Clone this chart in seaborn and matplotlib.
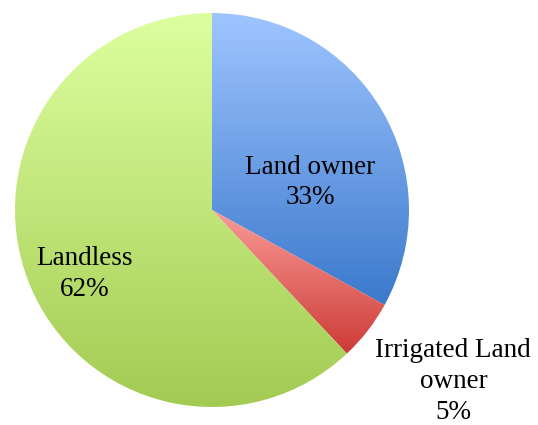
import numpy as np
import matplotlib
matplotlib.use("Agg")
import matplotlib.pyplot as plt
import seaborn as sns
from matplotlib.colors import LinearSegmentedColormap

sns.set_theme(style="white")
plt.rcParams["font.family"] = ["Liberation Serif", "DejaVu Serif"]

categories = ["Land owner", "Irrigated Land\nowner", "Landless"]
shares = [33, 5, 62]

# gradient endpoints (top colour, bottom colour) for each slice
gradients = [
    ("#9fc5ff", "#3b79cc"),
    ("#fa9b98", "#cc3a35"),
    ("#ddffa0", "#a3cb52"),
]

# label anchor positions in pie units (radius = 1)
label_pos = [(0.50, 0.14), (1.225, -0.87), (-0.645, -0.325)]

fig = plt.figure(figsize=(5.38, 4.25), dpi=100)
ax = fig.add_axes([0, 0, 1, 1])

wedges, _ = ax.pie(shares, startangle=90, counterclock=False,
                   radius=1.0, center=(0, 0))

for w, (c_top, c_bot) in zip(wedges, gradients):
    w.set_facecolor("none")
    w.set_edgecolor("none")
    verts = w.get_path().vertices
    x0, x1 = verts[:, 0].min(), verts[:, 0].max()
    y0, y1 = verts[:, 1].min(), verts[:, 1].max()
    cmap = LinearSegmentedColormap.from_list("g", [c_bot, c_top])
    grad = np.linspace(0, 1, 256).reshape(-1, 1)
    im = ax.imshow(grad, cmap=cmap, origin="lower", aspect="auto",
                   extent=(x0, x1, y0, y1), interpolation="bilinear", zorder=1)
    im.set_clip_path(w)

for (name, val), (lx, ly) in zip(zip(categories, shares), label_pos):
    ax.text(lx, ly, f"{name}\n{val}%", ha="center", va="center",
            fontsize=19.5, color="black", linespacing=1.3, zorder=3)

px = 197.0
ax.set_xlim(-212 / px, (538 - 212) / px)
ax.set_ylim(-215 / px, 210 / px)
ax.set_aspect("auto")
ax.axis("off")

fig.savefig("out.png", dpi=100, facecolor="white")
